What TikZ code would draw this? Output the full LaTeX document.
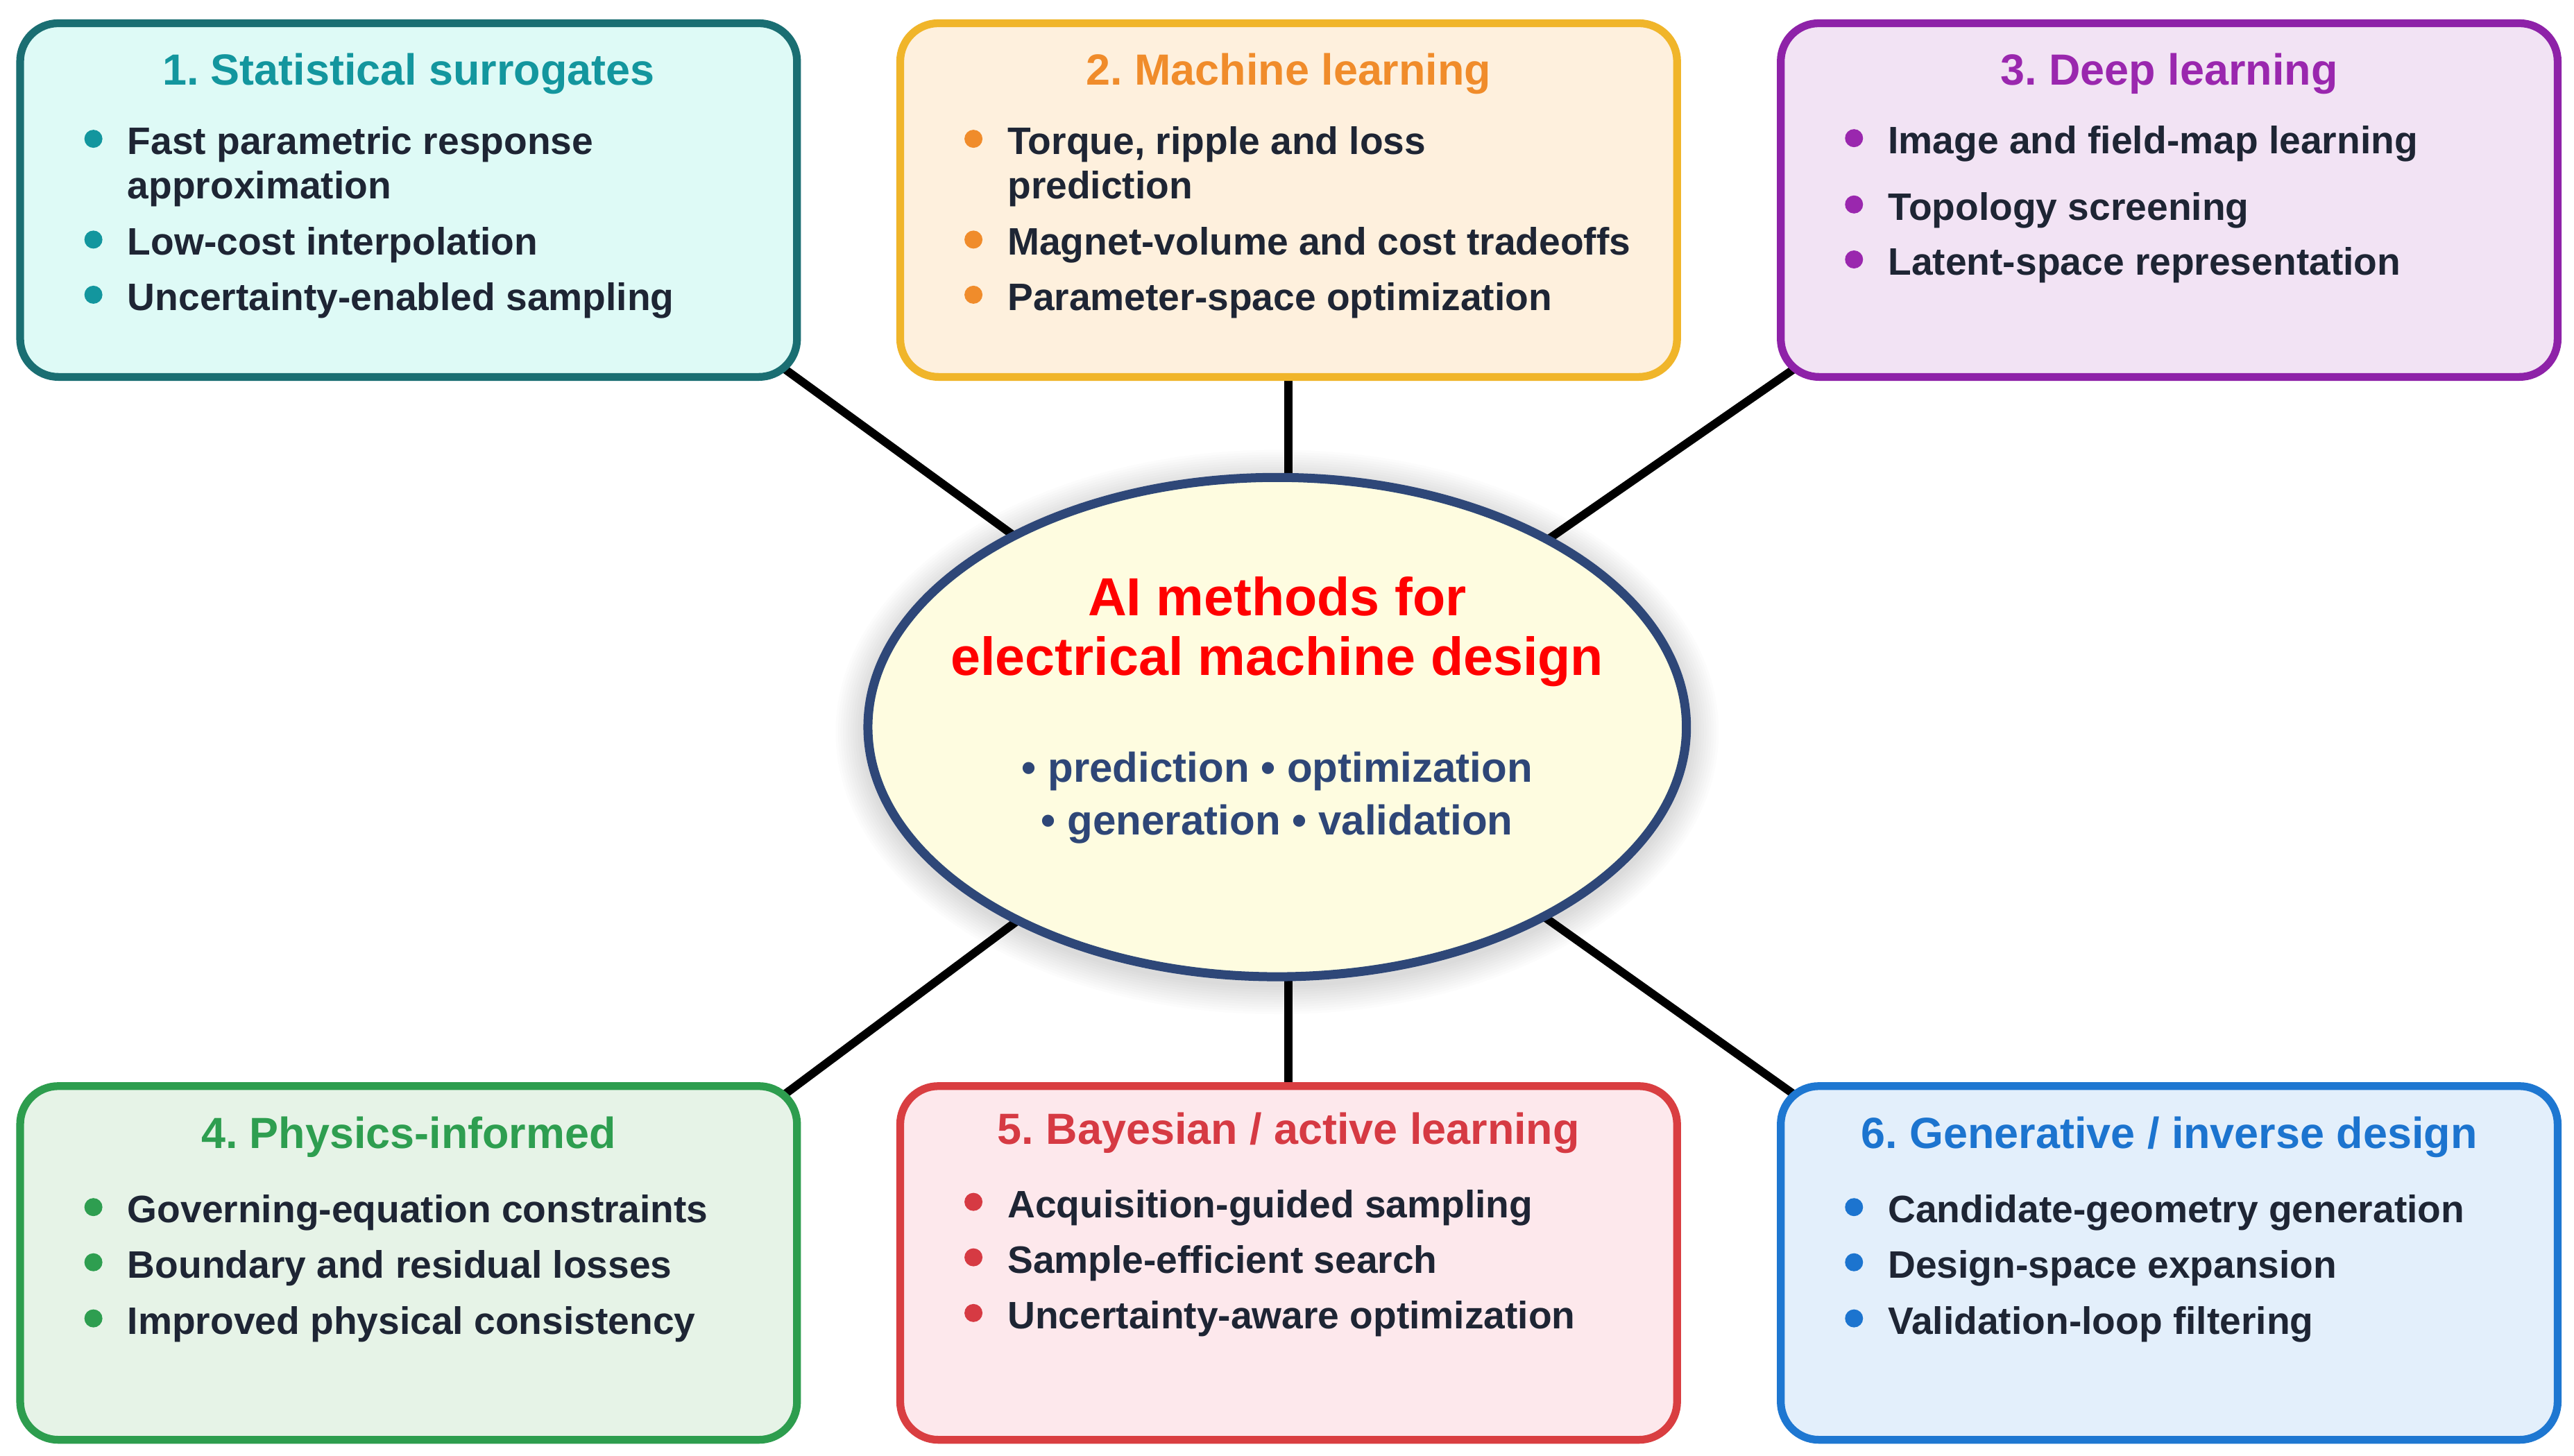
\documentclass[tikz,border=0pt]{standalone}
\usepackage{fontspec}
\setmainfont{Liberation Sans}
\usepackage{tikz}
\usetikzlibrary{shapes.geometric,calc,backgrounds}
\frenchspacing

\definecolor{ink}{HTML}{1E2534}
\definecolor{bdr1}{HTML}{1A6E72}
\definecolor{fil1}{HTML}{DEFAF6}
\definecolor{ttl1}{HTML}{13969E}
\definecolor{bdr2}{HTML}{F0B52A}
\definecolor{fil2}{HTML}{FEF0DD}
\definecolor{ttl2}{HTML}{F08C2B}
\definecolor{bdr3}{HTML}{8E22A8}
\definecolor{fil3}{HTML}{F2E3F4}
\definecolor{ttl3}{HTML}{9A27AE}
\definecolor{bdr4}{HTML}{2D9D4E}
\definecolor{fil4}{HTML}{E6F3E7}
\definecolor{ttl4}{HTML}{2E9E50}
\definecolor{bdr5}{HTML}{D93E41}
\definecolor{fil5}{HTML}{FDE8EC}
\definecolor{ttl5}{HTML}{D63A43}
\definecolor{bdr6}{HTML}{1E77D1}
\definecolor{fil6}{HTML}{E3EFFB}
\definecolor{ttl6}{HTML}{1C74CF}
\definecolor{hubline}{HTML}{2E4778}
\definecolor{hubfill}{HTML}{FEFCE0}
\definecolor{hubtext}{HTML}{2E4677}

\begin{document}
\begin{tikzpicture}[x=0.02366cm,y=-0.02366cm,
  box/.style={draw,rounded corners=0.55cm,line width=3.2pt,minimum width=11.2cm,minimum height=5.1cm},
  head/.style={anchor=base,inner sep=0,font=\bfseries\fontsize{17.9}{21}\selectfont},
  item/.style={anchor=base west,inner sep=0,text=ink,font=\bfseries\fontsize{15.7}{18}\selectfont},
  dot/.style={circle,inner sep=0,minimum size=0.26cm},
  hubhead/.style={anchor=base,inner sep=0,text=red,font=\bfseries\fontsize{22}{26}\selectfont},
  hubsub/.style={anchor=base,inner sep=0,text=hubtext,font=\bfseries\fontsize{17.1}{20}\selectfont},
  link/.style={line width=3.4pt,black}]
\useasboundingbox (0,0) rectangle (1568,887);
\foreach \bx/\x/\y in {1/248.9/121.9,2/785/121.9,3/1321.4/121.9,4/248.9/769.5,5/785/769.5,6/1321.4/769.5}{
  \node[box,draw=bdr\bx,fill=fil\bx] (box-\bx) at (\x,\y) {};
};
\node[ellipse,draw=hubline,fill=hubfill,line width=3.7pt,minimum width=11.8cm,minimum height=7.2cm,inner sep=0] (hub) at (778,443) {};
\node[hubhead] (hub-1) at ($(hub.center)+(0,-68)$) {AI methods for};
\node[hubhead] (hub-2) at ($(hub.center)+(0,-31.5)$) {electrical machine design};
\node[hubsub] (hub-3) at ($(hub.center)+(0,33.5)$) {• prediction • optimization};
\node[hubsub] (hub-4) at ($(hub.center)+(0,65.5)$) {• generation • validation};
\foreach \bx/\dy/\txt in {1/40.1/{1. Statistical surrogates},2/40.1/{2. Machine learning},3/40.1/{3. Deep learning},
  4/40.4/{4. Physics-informed},5/37.6/{5. Bayesian / active learning},6/40.4/{6. Generative / inverse design}}{
  \node[head,text=ttl\bx] (head-\bx) at ($(box-\bx.north)+(0,\dy)$) {\txt};
};
\foreach \bx/\nr/\dy/\txt in {
  1/1/82.3/{Fast parametric response},1/1b/109.3/{approximation},1/2/143.7/{Low-cost interpolation},1/3/177.3/{Uncertainty-enabled sampling},
  2/1/82.3/{Torque, ripple and loss},2/1b/109.3/{prediction},2/2/143.7/{Magnet-volume and cost tradeoffs},2/3/177.3/{Parameter-space optimization},
  3/1/81.9/{Image and field-map learning},3/2/122.3/{Topology screening},3/3/155.8/{Latent-space representation},
  4/1/85.6/{Governing-equation constraints},4/2/119.2/{Boundary and residual losses},4/3/153.4/{Improved physical consistency},
  5/1/82.4/{Acquisition-guided sampling},5/2/116.2/{Sample-efficient search},5/3/150.1/{Uncertainty-aware optimization},
  6/1/85.6/{Candidate-geometry generation},6/2/119.2/{Design-space expansion},6/3/153.4/{Validation-loop filtering}}{
  \node[item] (item-\bx-\nr) at ($(box-\bx.north west)+(67.5,\dy)$) {\txt};
};
\foreach \bx in {1,...,6}{
  \foreach \nr in {1,2,3}{
    \node[dot,fill=ttl\bx] (dot-\bx-\nr) at ($(item-\bx-\nr.base west)+(-20.5,-9.5)$) {};
  };
};
\begin{scope}[on background layer]
  \fill[white] (0,0) rectangle (1568,887);
  \draw[link,shorten >=-0.6cm] (hub.center) -- (box-1.south east);
  \draw[link,shorten >=-0.6cm] (hub.center) -- (box-3.south west);
  \draw[link,shorten >=-0.6cm] (hub.center) -- (box-4.north east);
  \draw[link,shorten >=-0.6cm] (hub.center) -- (box-6.north west);
  \draw[link] (box-2.south) -- (box-2.south |- hub.center);
  \draw[link] (box-5.north) -- (box-5.north |- hub.center);
  \foreach \sh in {1,...,12}{
    \fill[black,opacity=0.012] ($(hub.center)+(0,3)$) ellipse ({251+\sh*1.5} and {154+\sh*1.5});
  };
\end{scope}
\end{tikzpicture}
\end{document}
